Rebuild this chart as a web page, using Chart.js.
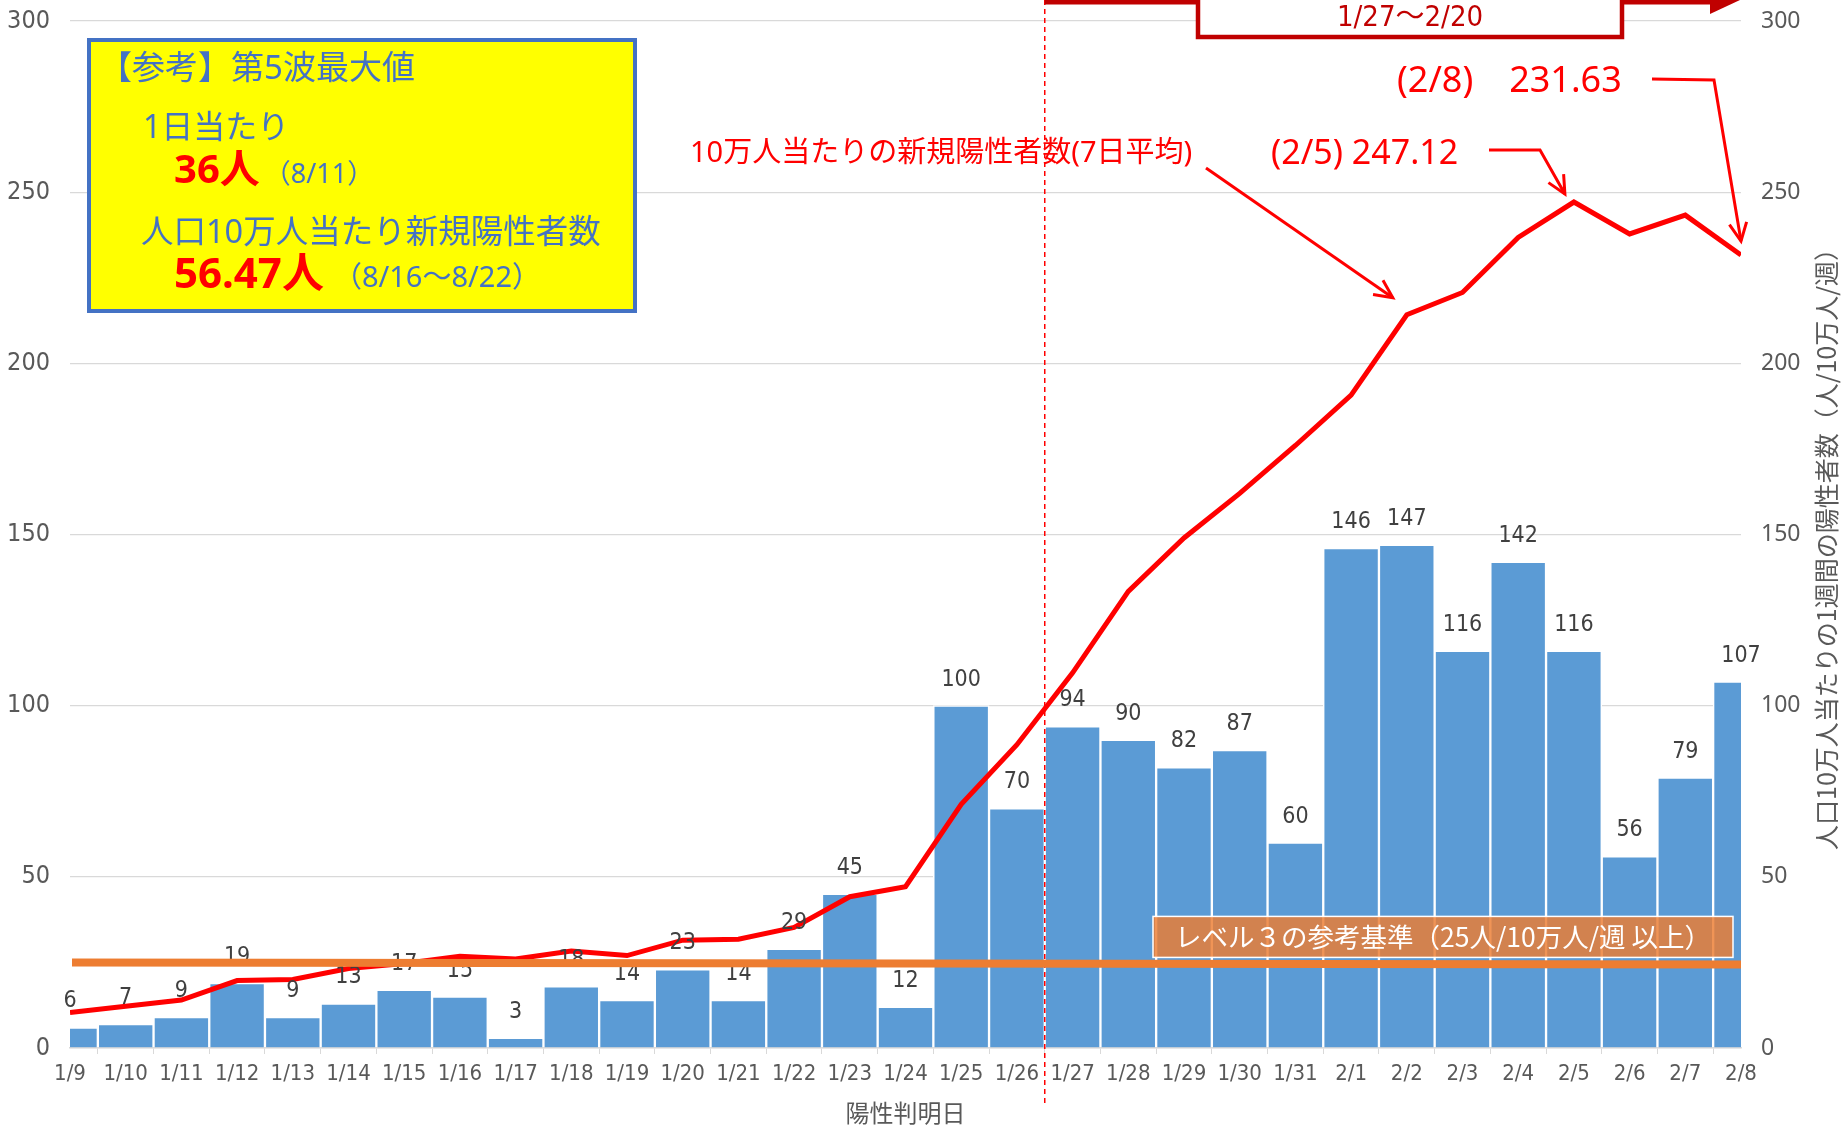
<!DOCTYPE html>
<html lang="ja">
<head>
<meta charset="utf-8">
<title>陽性者数の推移</title>
<script src="https://cdn.jsdelivr.net/npm/chart.js@4.4.1/dist/chart.umd.min.js"></script>
<style>
  html, body { margin: 0; padding: 0; background: #fff; }
  #chart { display: block; }
</style>
</head>
<body>
<canvas id="chart" width="1841" height="1129"></canvas>
<script>
// Data
const dates = ['1/9', '1/10', '1/11', '1/12', '1/13', '1/14', '1/15', '1/16', '1/17', '1/18',
    '1/19', '1/20', '1/21', '1/22', '1/23', '1/24', '1/25', '1/26', '1/27', '1/28',
    '1/29', '1/30', '1/31', '2/1', '2/2', '2/3', '2/4', '2/5', '2/6', '2/7', '2/8'];
const dailyCases = [6, 7, 9, 19, 9, 13, 17, 15, 3, 18,
    14, 23, 14, 29, 45, 12, 100, 70, 94, 90,
    82, 87, 60, 146, 147, 116, 142, 116, 56, 79, 107];
const weeklyPer100k = [10.4, 12.2, 14.0, 19.7, 20.0, 23.2, 24.7, 26.8, 26.0, 28.3,
    27.0, 31.5, 31.8, 35.2, 44.2, 47.1, 71.2, 88.6, 109.6, 133.4,
    149.0, 162.0, 176.0, 190.7, 214.2, 220.7, 236.8, 247.12, 237.8, 243.3, 231.63];
const levelThreshold = 25;
const axisMin = 0;
const axisMax = 300;
const axisStep = 50;

// Texts
const periodStart = '1/26';   // dashed line sits after this day
const periodLabel = '1/27〜2/20';
const lineLabel = '10万人当たりの新規陽性者数(7日平均)';
const lineLabelDate = '2/2';
const peakDate = '2/5';
const latestDate = '2/8';
const levelLabel = 'レベル３の参考基準（25人/10万人/週 以上）';
const rightAxisTitle = '人口10万人当たりの1週間の陽性者数（人/10万人/週）';

// Colors & fonts
const BLUE_BAR = '#5B9BD5';
const RED = '#FF0000';
const DARK_RED = '#C00000';
const ORANGE = '#ED7D31';
const GRID = '#D9D9D9';
const GRAY_TEXT = '#595959';
const BOX_BLUE = '#4472C4';
const NARROW = "'DejaVu Sans Condensed', 'Noto Sans CJK JP', sans-serif";
const JP = "'Noto Sans', 'Noto Sans CJK JP', sans-serif";
const CJK = "'Noto Sans CJK JP', sans-serif";

function drawText(ctx, str, x, y, size, color, opts = {}) {
    ctx.font = (opts.bold ? 'bold ' : '') + size + 'px ' + (opts.family || JP);
    ctx.fillStyle = color;
    ctx.textAlign = opts.align || 'left';
    ctx.textBaseline = 'middle';
    ctx.fillText(str, x, y);
    return ctx.measureText(str).width;
}

function drawArrow(ctx, pts, color, width, head) {
    ctx.strokeStyle = color;
    ctx.lineWidth = width;
    ctx.lineJoin = 'miter';
    ctx.beginPath();
    ctx.moveTo(pts[0][0], pts[0][1]);
    for (let i = 1; i < pts.length; i++) ctx.lineTo(pts[i][0], pts[i][1]);
    ctx.stroke();
    const [ax, ay] = pts[pts.length - 2];
    const [bx, by] = pts[pts.length - 1];
    const ang = Math.atan2(by - ay, bx - ax);
    ctx.beginPath();
    ctx.moveTo(bx - head * Math.cos(ang - 0.45), by - head * Math.sin(ang - 0.45));
    ctx.lineTo(bx, by);
    ctx.lineTo(bx - head * Math.cos(ang + 0.45), by - head * Math.sin(ang + 0.45));
    ctx.stroke();
}

// Value labels above the bars
const barLabels = {
    id: 'barLabels',
    afterDatasetsDraw(chart) {
        const ctx = chart.ctx;
        const barIndex = chart.data.datasets.findIndex(d => d.type === 'bar');
        const meta = chart.getDatasetMeta(barIndex);
        ctx.save();
        meta.data.forEach((bar, i) => {
            drawText(ctx, String(dailyCases[i]), bar.x, bar.y - 26, 23, '#404040', { family: NARROW, align: 'center' });
        });
        ctx.restore();
    }
};

// Annotations: info box, arrows, period bracket, level line
const annotations = {
    id: 'annotations',
    afterDraw(chart) {
        const ctx = chart.ctx;
        const area = chart.chartArea;
        const x = chart.scales.x;
        const y1 = chart.scales.y1;
        const pointAt = (d) => {
            const i = dates.indexOf(d);
            return [x.getPixelForValue(i), y1.getPixelForValue(weeklyPer100k[i])];
        };
        ctx.save();

        // dashed separator between 1/26 and 1/27
        const si = dates.indexOf(periodStart);
        const sepX = (x.getPixelForValue(si) + x.getPixelForValue(si + 1)) / 2;
        ctx.strokeStyle = RED;
        ctx.lineWidth = 1.5;
        ctx.setLineDash([5, 4]);
        ctx.beginPath();
        ctx.moveTo(sepX, 0);
        ctx.lineTo(sepX, area.bottom + 56);
        ctx.stroke();
        ctx.setLineDash([]);

        // period bracket at the top
        const boxL = 1198, boxR = 1622, boxB = 37;
        ctx.strokeStyle = DARK_RED;
        ctx.fillStyle = DARK_RED;
        ctx.lineWidth = 9;
        ctx.beginPath();
        ctx.moveTo(sepX, 0);
        ctx.lineTo(boxL, 0);
        ctx.moveTo(boxR, 0);
        ctx.lineTo(1712, 0);
        ctx.stroke();
        ctx.beginPath();
        ctx.moveTo(1710, -14);
        ctx.lineTo(1740, 0);
        ctx.lineTo(1710, 14);
        ctx.closePath();
        ctx.fill();
        ctx.fillStyle = '#fff';
        ctx.fillRect(boxL, -10, boxR - boxL, boxB + 10);
        ctx.lineWidth = 4.5;
        ctx.strokeRect(boxL, -10, boxR - boxL, boxB + 10);
        drawText(ctx, periodLabel, (boxL + boxR) / 2, 18, 29, DARK_RED, { family: NARROW, align: 'center' });

        // yellow reference box
        const bx = 89, by = 40, bw = 546, bh = 271;
        ctx.fillStyle = '#FFFF00';
        ctx.fillRect(bx, by, bw, bh);
        ctx.strokeStyle = BOX_BLUE;
        ctx.lineWidth = 4;
        ctx.strokeRect(bx, by, bw, bh);
        drawText(ctx, '【参考】第5波最大値', bx + 10, by + 30, 33, BOX_BLUE);
        drawText(ctx, '1日当たり', bx + 54, by + 89, 32, BOX_BLUE);
        let w = drawText(ctx, '36人', bx + 85, by + 132, 40, RED, { bold: true });
        drawText(ctx, '（8/11）', bx + 85 + w + 4, by + 135, 27, BOX_BLUE);
        drawText(ctx, '人口10万人当たり新規陽性者数', bx + 52, by + 194, 32.5, BOX_BLUE);
        w = drawText(ctx, '56.47人', bx + 85, by + 236, 42, RED, { bold: true });
        drawText(ctx, '（8/16〜8/22）', bx + 85 + w + 9, by + 239, 29, BOX_BLUE);

        // red labels and arrows pointing at the 7-day line
        drawText(ctx, lineLabel, 690, 154, 29, RED);
        const [lx, ly] = pointAt(lineLabelDate);
        drawArrow(ctx, [[1206, 168], [lx - 14, ly - 17]], RED, 3, 20);

        const [px, py] = pointAt(peakDate);
        const peakVal = weeklyPer100k[dates.indexOf(peakDate)];
        drawText(ctx, '(' + peakDate + ') ' + peakVal.toFixed(2), 1271, 154, 34, RED);
        drawArrow(ctx, [[1489, 150], [1540, 150], [px - 9, py - 8]], RED, 3, 20);

        const [qx, qy] = pointAt(latestDate);
        const latestVal = weeklyPer100k[dates.indexOf(latestDate)];
        drawText(ctx, '(' + latestDate + ')　' + latestVal.toFixed(2), 1397, 82, 36, RED);
        drawArrow(ctx, [[1652, 79], [1714, 80], [qx, qy - 14]], RED, 3, 20);

        // level 3 threshold line and label
        const levelY = chart.scales.y.getPixelForValue(levelThreshold);
        ctx.strokeStyle = ORANGE;
        ctx.lineWidth = 8;
        ctx.beginPath();
        ctx.moveTo(area.left + 2, levelY);
        ctx.lineTo(area.right, levelY + 2);
        ctx.stroke();
        const lbR = area.right - 8, lbL = 1153, lbB = levelY - 5, lbH = 41;
        ctx.fillStyle = 'rgba(237, 125, 49, 0.82)';
        ctx.fillRect(lbL, lbB - lbH, lbR - lbL, lbH);
        ctx.strokeStyle = '#ffffff';
        ctx.lineWidth = 1.5;
        ctx.strokeRect(lbL, lbB - lbH, lbR - lbL, lbH);
        drawText(ctx, levelLabel, (lbL + lbR) / 2, lbB - lbH / 2, 26.5, '#ffffff', { family: CJK, align: 'center' });

        // right axis title, reading bottom to top
        ctx.translate(1826, 543);
        ctx.rotate(-Math.PI / 2);
        drawText(ctx, rightAxisTitle, 0, 0, 25, GRAY_TEXT, { family: CJK, align: 'center' });

        ctx.restore();
    }
};

const ctx = document.getElementById('chart').getContext('2d');
new Chart(ctx, {
    data: {
        labels: dates,
        datasets: [{
            type: 'line',
            label: '10万人当たり新規陽性者数(7日平均)',
            data: weeklyPer100k,
            yAxisID: 'y1',
            borderColor: RED,
            borderWidth: 5,
            pointRadius: 0,
            tension: 0,
            order: 0,
            clip: 0
        }, {
            type: 'bar',
            label: '陽性者数',
            data: dailyCases,
            yAxisID: 'y',
            backgroundColor: BLUE_BAR,
            borderColor: '#ffffff',
            borderWidth: 1.5,
            borderSkipped: 'start',
            barPercentage: 1,
            categoryPercentage: 1,
            order: 1,
            clip: 0
        }]
    },
    options: {
        responsive: false,
        animation: false,
        layout: { padding: { top: 21, left: 0, right: 0, bottom: 0 } },
        plugins: {
            legend: { display: false },
            tooltip: { enabled: false }
        },
        scales: {
            x: {
                offset: false,
                grid: { drawOnChartArea: false, drawTicks: true, tickLength: 6, color: GRID },
                border: { color: GRID, width: 1.5 },
                ticks: {
                    autoSkip: false, maxRotation: 0, padding: 7,
                    color: GRAY_TEXT, font: { family: NARROW, size: 22 }
                },
                title: {
                    display: true, text: '陽性判明日', color: GRAY_TEXT,
                    font: { family: CJK, size: 24 },
                    padding: { top: 0, bottom: 2 }
                },
                afterFit: (s) => { s.height = 81; }
            },
            y: {
                position: 'left',
                min: axisMin, max: axisMax,
                ticks: { stepSize: axisStep, padding: 0, color: GRAY_TEXT, font: { family: NARROW, size: 25, lineHeight: 1 } },
                grid: { color: GRID, lineWidth: 1.3, drawTicks: true, tickLength: 20, tickColor: 'rgba(0,0,0,0)' },
                border: { display: false },
                afterFit: (s) => { s.width = 70; }
            },
            y1: {
                position: 'right',
                min: axisMin, max: axisMax,
                ticks: { stepSize: axisStep, padding: 0, color: GRAY_TEXT, font: { family: "'Noto Sans', sans-serif", size: 23, lineHeight: 1 } },
                grid: { drawOnChartArea: false, drawTicks: true, tickLength: 20, tickColor: 'rgba(0,0,0,0)' },
                border: { display: false },
                afterFit: (s) => { s.width = 100; }
            }
        }
    },
    plugins: [barLabels, annotations]
});
</script>
</body>
</html>
